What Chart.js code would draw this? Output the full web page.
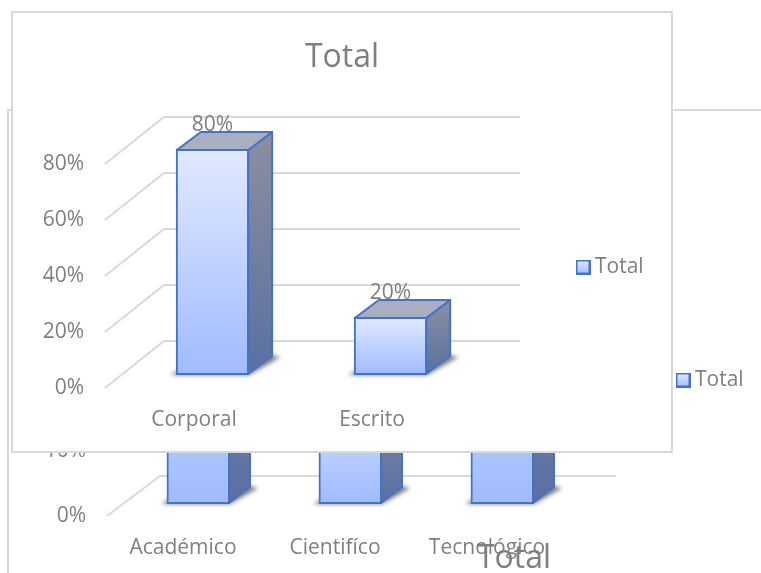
<!DOCTYPE html>
<html>
<head>
<meta charset="utf-8">
<script src="https://cdn.jsdelivr.net/npm/chart.js@4"></script>
<style>
html, body { margin: 0; padding: 0; width: 761px; height: 573px; overflow: hidden; background: #fff; }
canvas { position: absolute; display: block; }
#fundo { left: 7px; top: 109px; outline: 2px solid #d9d9d9; outline-offset: -2px; background: #fff; }
#tituloBaixo { left: 214px; top: 530px; }
#frente { left: 11px; top: 11px; outline: 2px solid #d9d9d9; outline-offset: -2px; background: #fff; }
</style>
</head>
<body>
<canvas id="fundo" width="900" height="500"></canvas>
<canvas id="tituloBaixo" width="600" height="43"></canvas>
<canvas id="frente" width="662" height="442"></canvas>
<script>
const categoriasFrente = ['Corporal', 'Escrito'];
const valoresFrente = [80, 20];
const ticksFrente = [0, 20, 40, 60, 80];

// the tops of these bars are hidden by the front chart, values are estimated
const categoriasFundo = ['Académico', 'Cientifíco', 'Tecnológico'];
const valoresFundo = [40, 20, 40];
const ticksFundo = [0, 10, 20, 30, 40, 50];

const nomeSerie = 'Total';
const FONTE = '"Open Sans", "Noto Sans", sans-serif';
const COR_TEXTO = '#7f7f7f';
const COR_GRADE = '#d9d9d9';
const COR_BORDA = '#4472C4';
const FOLGA_LEGENDA = 8;

function criarAmostra(){
    const c = document.createElement('canvas');
    c.width = 15;
    c.height = 15;
    const g = c.getContext('2d');
    const grad = g.createLinearGradient(0, 1, 0, 14);
    grad.addColorStop(0, '#e1e9ff');
    grad.addColorStop(1, '#a3bdff');
    g.fillStyle = grad;
    g.fillRect(1, 1, 13, 13);
    g.strokeStyle = COR_BORDA;
    g.lineWidth = 2;
    g.strokeRect(1, 1, 13, 13);
    return c;
}

function caminho(ctx, pts){
    ctx.beginPath();
    pts.forEach((p, i)=> i === 0 ? ctx.moveTo(p[0], p[1]) : ctx.lineTo(p[0], p[1]));
    ctx.closePath();
}

function plugin3d(cfg){
    return {
        id: 'barras3d',
        afterLayout(chart){
            // the legend does not take layout space here, it just sits at a fixed spot
            const leg = chart.legend;
            leg.left = cfg.legendaX - FOLGA_LEGENDA;
            leg.right = leg.left + 120;
            leg.top = cfg.legendaY - FOLGA_LEGENDA;
            leg.bottom = leg.top + 50;
            // title is centred on the whole frame, not on what the padding leaves
            chart.titleBlock.left = 0;
            chart.titleBlock.right = chart.width;
        },
        beforeDatasetsDraw(chart){
            const {ctx, chartArea, scales} = chart;
            ctx.save();
            // walls
            ctx.strokeStyle = COR_GRADE;
            ctx.lineWidth = 2;
            scales.y.ticks.forEach(t =>{
                const y = scales.y.getPixelForValue(t.value);
                ctx.beginPath();
                ctx.moveTo(chartArea.left, y);
                ctx.lineTo(chartArea.left + cfg.paredeX, y - cfg.paredeY);
                ctx.lineTo(chartArea.right + cfg.paredeX, y - cfg.paredeY);
                ctx.stroke();
            });
            // value labels go under the bar, its top face cuts them
            ctx.fillStyle = COR_TEXTO;
            ctx.font = '21px ' + FONTE;
            ctx.textAlign = 'center';
            ctx.textBaseline = 'middle';
            chart.getDatasetMeta(0).data.forEach((barra, i)=>{
                const v = chart.data.datasets[0].data[i];
                ctx.fillText(v + '%', barra.x + cfg.barraX, barra.y + cfg.barraY - 25);
            });
            // floor shadow
            ctx.filter = 'blur(2px)';
            ctx.fillStyle = 'rgba(60,60,60,0.7)';
            chart.getDatasetMeta(0).data.forEach(barra =>{
                const x1 = barra.x - barra.width / 2 + cfg.barraX;
                const x2 = barra.x + barra.width / 2 + cfg.barraX;
                const yb = barra.base + cfg.barraY;
                caminho(ctx, [[x1 - 6, yb + 1], [x2 + 1, yb + 1], [x2 + cfg.fundoX + 8, yb - cfg.fundoY + 1], [x2 + cfg.fundoX - 2, yb - cfg.fundoY - 1], [x2, yb - 3], [x1, yb - 3]]);
                ctx.fill();
            });
            ctx.restore();
            ctx.save();
            ctx.translate(cfg.barraX, cfg.barraY);
        },
        afterDatasetsDraw(chart){
            const {ctx} = chart;
            ctx.restore();
            ctx.save();
            ctx.strokeStyle = COR_BORDA;
            ctx.lineWidth = 2;
            ctx.lineJoin = 'round';
            chart.getDatasetMeta(0).data.forEach(barra =>{
                const x1 = barra.x - barra.width / 2 + cfg.barraX;
                const x2 = barra.x + barra.width / 2 + cfg.barraX;
                const yt = barra.y + cfg.barraY;
                const yb = barra.base + cfg.barraY;
                const lado = ctx.createLinearGradient(0, yt - cfg.fundoY, 0, yb);
                lado.addColorStop(0, '#8b8f9f');
                lado.addColorStop(1, '#5a70a3');
                caminho(ctx, [[x2, yt], [x2 + cfg.fundoX, yt - cfg.fundoY], [x2 + cfg.fundoX, yb - cfg.fundoY], [x2, yb]]);
                ctx.fillStyle = lado;
                ctx.fill();
                ctx.stroke();
                caminho(ctx, [[x1, yt], [x2, yt], [x2 + cfg.fundoX, yt - cfg.fundoY], [x1 + cfg.fundoX, yt - cfg.fundoY]]);
                ctx.fillStyle = '#a9afc0';
                ctx.fill();
                ctx.stroke();
            });
            ctx.restore();
        }
    };
}

function setupGrafico(canvasId, categorias, valores, ticks, cfg){
    const ctx = document.getElementById(canvasId).getContext('2d');
    const amostra = criarAmostra();
    return new Chart(ctx, {
        type: 'bar',
        data: {
            labels: categorias,
            datasets: [{
                label: nomeSerie,
                data: valores,
                clip: false,
                categoryPercentage: 1,
                barPercentage: cfg.larguraBarra,
                borderColor: COR_BORDA,
                borderWidth: 2,
                borderSkipped: false,
                inflateAmount: 1,
                backgroundColor(c){
                    const chart = c.chart;
                    if(!chart.chartArea || c.raw === undefined) return '#c3d3ff';
                    const y = chart.scales.y;
                    const grad = chart.ctx.createLinearGradient(0, y.getPixelForValue(c.raw), 0, y.getPixelForValue(0));
                    grad.addColorStop(0, '#e1e9ff');
                    grad.addColorStop(1, '#a0bbff');
                    return grad;
                }
            }]
        },
        options: {
            responsive: false,
            animation: false,
            layout: {padding: {left: 0, top: cfg.topo, right: cfg.direita, bottom: 0}},
            scales: {
                x: {
                    grid: {display: false},
                    border: {display: false},
                    ticks: {color: COR_TEXTO, font: {family: FONTE, size: 21}, padding: 11, maxRotation: 0, autoSkip: false},
                    afterFit(s){ s.height = cfg.alturaX; }
                },
                y: {
                    min: ticks[0],
                    max: ticks[ticks.length - 1],
                    grid: {display: false, drawTicks: false},
                    border: {display: false},
                    ticks: {
                        stepSize: ticks[1] - ticks[0],
                        color: COR_TEXTO,
                        font: {family: FONTE, size: 21},
                        padding: 21,
                        callback: v => v + '%'
                    },
                    afterFit(s){ s.width = cfg.larguraY; }
                }
            },
            plugins: {
                tooltip: {enabled: false},
                title: {
                    display: cfg.titulo,
                    text: nomeSerie,
                    color: COR_TEXTO,
                    font: {family: FONTE, size: 32, weight: 'normal', lineHeight: 1},
                    padding: {top: 31, bottom: 90}
                },
                legend: {
                    position: 'chartArea',
                    align: 'start',
                    labels: {
                        color: COR_TEXTO,
                        font: {family: FONTE, size: 21},
                        padding: FOLGA_LEGENDA,
                        boxHeight: 13,
                        usePointStyle: true,
                        pointStyleWidth: 3,
                        generateLabels: () => [{text: nomeSerie, pointStyle: amostra, fontColor: COR_TEXTO, datasetIndex: 0}]
                    }
                }
            }
        },
        plugins: [plugin3d(cfg)]
    });
}

setupGrafico('fundo', categoriasFundo, valoresFundo, ticksFundo, {
    titulo: false, topo: 82, direita: 344, alturaX: 93, larguraY: 100,
    larguraBarra: 61.5 / 152, paredeX: 53, paredeY: 40,
    barraX: 15.3, barraY: -13, fundoX: 21, fundoY: 16,
    legendaX: 674.5, legendaY: 260.5
});

setupGrafico('frente', categoriasFrente, valoresFrente, ticksFrente, {
    titulo: true, topo: 0, direita: 212, alturaX: 65, larguraY: 94,
    larguraBarra: 71 / 177, paredeX: 59, paredeY: 47,
    barraX: 18.5, barraY: -14, fundoX: 24, fundoY: 18,
    legendaX: 570.5, legendaY: 245.5
});

// third chart of the sheet, only its title shows at the bottom of the page
new Chart(document.getElementById('tituloBaixo').getContext('2d'), {
    type: 'bar',
    data: {labels: [], datasets: []},
    options: {
        responsive: false,
        animation: false,
        scales: {x: {display: false}, y: {display: false}},
        plugins: {
            legend: {display: false},
            tooltip: {enabled: false},
            title: {
                display: true,
                text: nomeSerie,
                color: COR_TEXTO,
                font: {family: FONTE, size: 32, weight: 'normal', lineHeight: 1},
                padding: {top: 13, bottom: 0}
            }
        }
    }
});
</script>
</body>
</html>
